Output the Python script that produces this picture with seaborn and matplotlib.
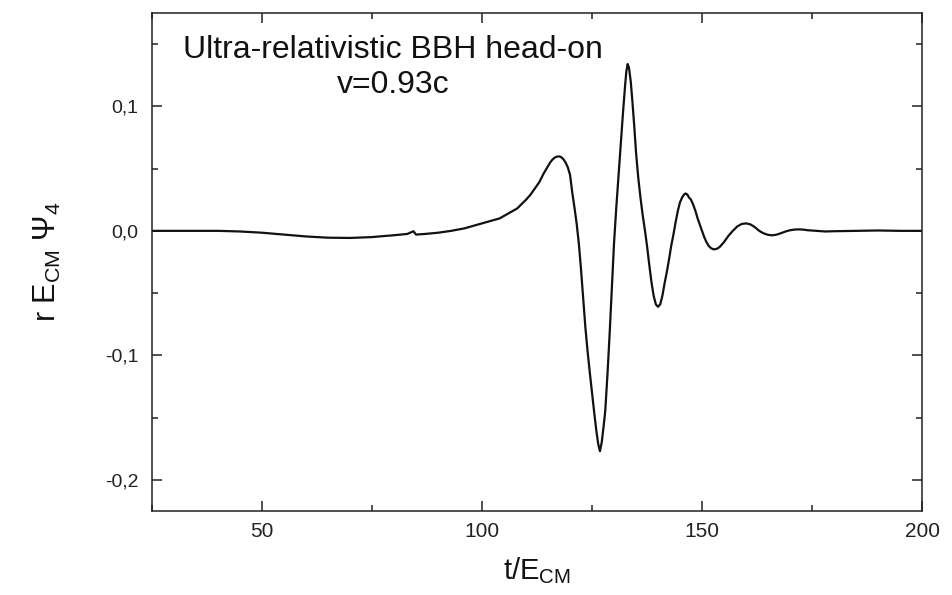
import numpy as np
import pandas as pd
import matplotlib
matplotlib.use("Agg")
import matplotlib.pyplot as plt
from matplotlib.ticker import MultipleLocator, FuncFormatter
import seaborn as sns

# Waveform samples: time t/E_CM and r E_CM Psi_4
t_vals = [
    25, 30, 35, 40, 45, 50, 55, 60, 65, 70, 75, 80, 83, 84, 84.4, 85, 87, 90, 93,
    96, 99, 102, 104, 106, 108, 110, 111, 112, 113, 113.5, 114, 114.5, 115, 115.5,
    116, 116.5, 117, 117.5, 118, 118.5, 119, 119.5, 120, 120.5, 121, 121.5, 122,
    122.5, 123, 123.5, 124, 124.5, 125, 125.5, 126, 126.4, 126.8, 127.2, 127.6,
    128, 128.5, 129, 129.5, 130, 130.5, 131, 131.5, 132, 132.5, 132.8, 133.1,
    133.4, 133.8, 134.2, 134.6, 135, 135.5, 136, 136.5, 137, 137.5, 138, 138.5,
    139, 139.5, 140, 140.5, 141, 141.5, 142, 142.5, 143, 143.5, 144, 144.5, 145,
    145.5, 146, 146.3, 146.7, 147, 147.5, 148, 148.5, 149, 149.5, 150, 150.5, 151,
    151.5, 152, 152.5, 153, 153.5, 154, 155, 156, 157, 158, 159, 160, 161, 162,
    163, 164, 165, 166, 167, 168, 169, 170, 171, 172, 173, 174, 176, 178, 180,
    185, 190, 195, 200,
]
psi4_vals = [
    0.0, 0.0, 0.0, 0.0, -0.0005, -0.0015, -0.003, -0.0045, -0.0055, -0.0057,
    -0.005, -0.0035, -0.0025, -0.001, -0.0003, -0.003, -0.0025, -0.0015, 0.0,
    0.002, 0.005, 0.008, 0.010, 0.014, 0.018, 0.025, 0.029, 0.034, 0.039, 0.0425,
    0.046, 0.049, 0.052, 0.055, 0.0572, 0.0588, 0.0596, 0.0598, 0.0592, 0.0575,
    0.0548, 0.051, 0.045, 0.031, 0.019, 0.006, -0.010, -0.031, -0.055, -0.078,
    -0.097, -0.114, -0.130, -0.146, -0.161, -0.171, -0.177, -0.170, -0.158,
    -0.145, -0.116, -0.083, -0.047, -0.010, 0.018, 0.043, 0.068, 0.093, 0.116,
    0.128, 0.134, 0.131, 0.120, 0.103, 0.084, 0.063, 0.043, 0.027, 0.013, 0.001,
    -0.012, -0.027, -0.041, -0.052, -0.059, -0.061, -0.059, -0.052, -0.042,
    -0.033, -0.023, -0.012, -0.003, 0.007, 0.016, 0.023, 0.027, 0.0295, 0.030,
    0.029, 0.027, 0.025, 0.021, 0.016, 0.010, 0.005, 0.0, -0.005, -0.009, -0.012,
    -0.0138, -0.0147, -0.0148, -0.0142, -0.013, -0.009, -0.004, 0.0, 0.0035,
    0.0055, 0.006, 0.0052, 0.003, 0.0, -0.002, -0.0032, -0.0036, -0.003, -0.0018,
    -0.0005, 0.0005, 0.001, 0.0012, 0.001, 0.0005, 0.0, -0.0005, -0.0003, 0.0,
    0.0003, 0.0, 0.0,
]

x_ticks = [50, 100, 150, 200]
y_ticks = [-0.2, -0.1, 0.0, 0.1]
title_lines = ["Ultra-relativistic BBH head-on", "v=0.93c"]

df = pd.DataFrame({"t": t_vals, "psi4": psi4_vals})

sns.set_theme(style="ticks")
plt.rcParams["font.family"] = ["Liberation Sans", "DejaVu Sans"]
plt.rcParams["mathtext.fontset"] = "custom"
plt.rcParams["mathtext.rm"] = "Liberation Sans"
plt.rcParams["mathtext.it"] = "Liberation Sans"
plt.rcParams["mathtext.bf"] = "Liberation Sans"

fig = plt.figure(figsize=(9.52, 5.95), dpi=100)
ax = fig.add_axes([0.1597, 0.1412, 0.8088, 0.8370])

sns.lineplot(data=df, x="t", y="psi4", color="#111111", linewidth=1.6, ax=ax)

ax.set_xlim(25, 200)
ax.set_ylim(-0.225, 0.175)
ax.set_xticks(x_ticks)
ax.set_yticks(y_ticks)
ax.xaxis.set_minor_locator(MultipleLocator(25))
ax.yaxis.set_minor_locator(MultipleLocator(0.05))
ax.yaxis.set_major_formatter(FuncFormatter(lambda v, p: f"{v:.1f}".replace(".", ",")))

for side in ["top", "right", "left", "bottom"]:
    ax.spines[side].set_visible(True)
    ax.spines[side].set_linewidth(1.1)
    ax.spines[side].set_color("#222222")

ax.tick_params(which="both", direction="in", top=True, right=True,
               color="#222222", width=1.1)
ax.tick_params(which="major", length=7.5)
ax.tick_params(which="minor", length=4.5)
ax.tick_params(axis="x", which="major", labelsize=15, pad=8, labelcolor="#222222")
ax.tick_params(axis="y", which="major", labelsize=14, pad=10, labelcolor="#222222")

ax.set_xlabel(r"t/E$_{\mathrm{CM}}$", fontsize=21, labelpad=10, color="#111111")
ax.set_ylabel(r"r E$_{\mathrm{CM}}$ $\Psi_{4}$", fontsize=22, labelpad=30, color="#111111")

ax.text(0.313, 0.9096, title_lines[0], transform=ax.transAxes, ha="center",
        va="baseline", fontsize=23, color="#111111")
ax.text(0.313, 0.839, title_lines[1], transform=ax.transAxes, ha="center",
        va="baseline", fontsize=23, color="#111111")

fig.savefig("out.png", dpi=100, facecolor="white")
